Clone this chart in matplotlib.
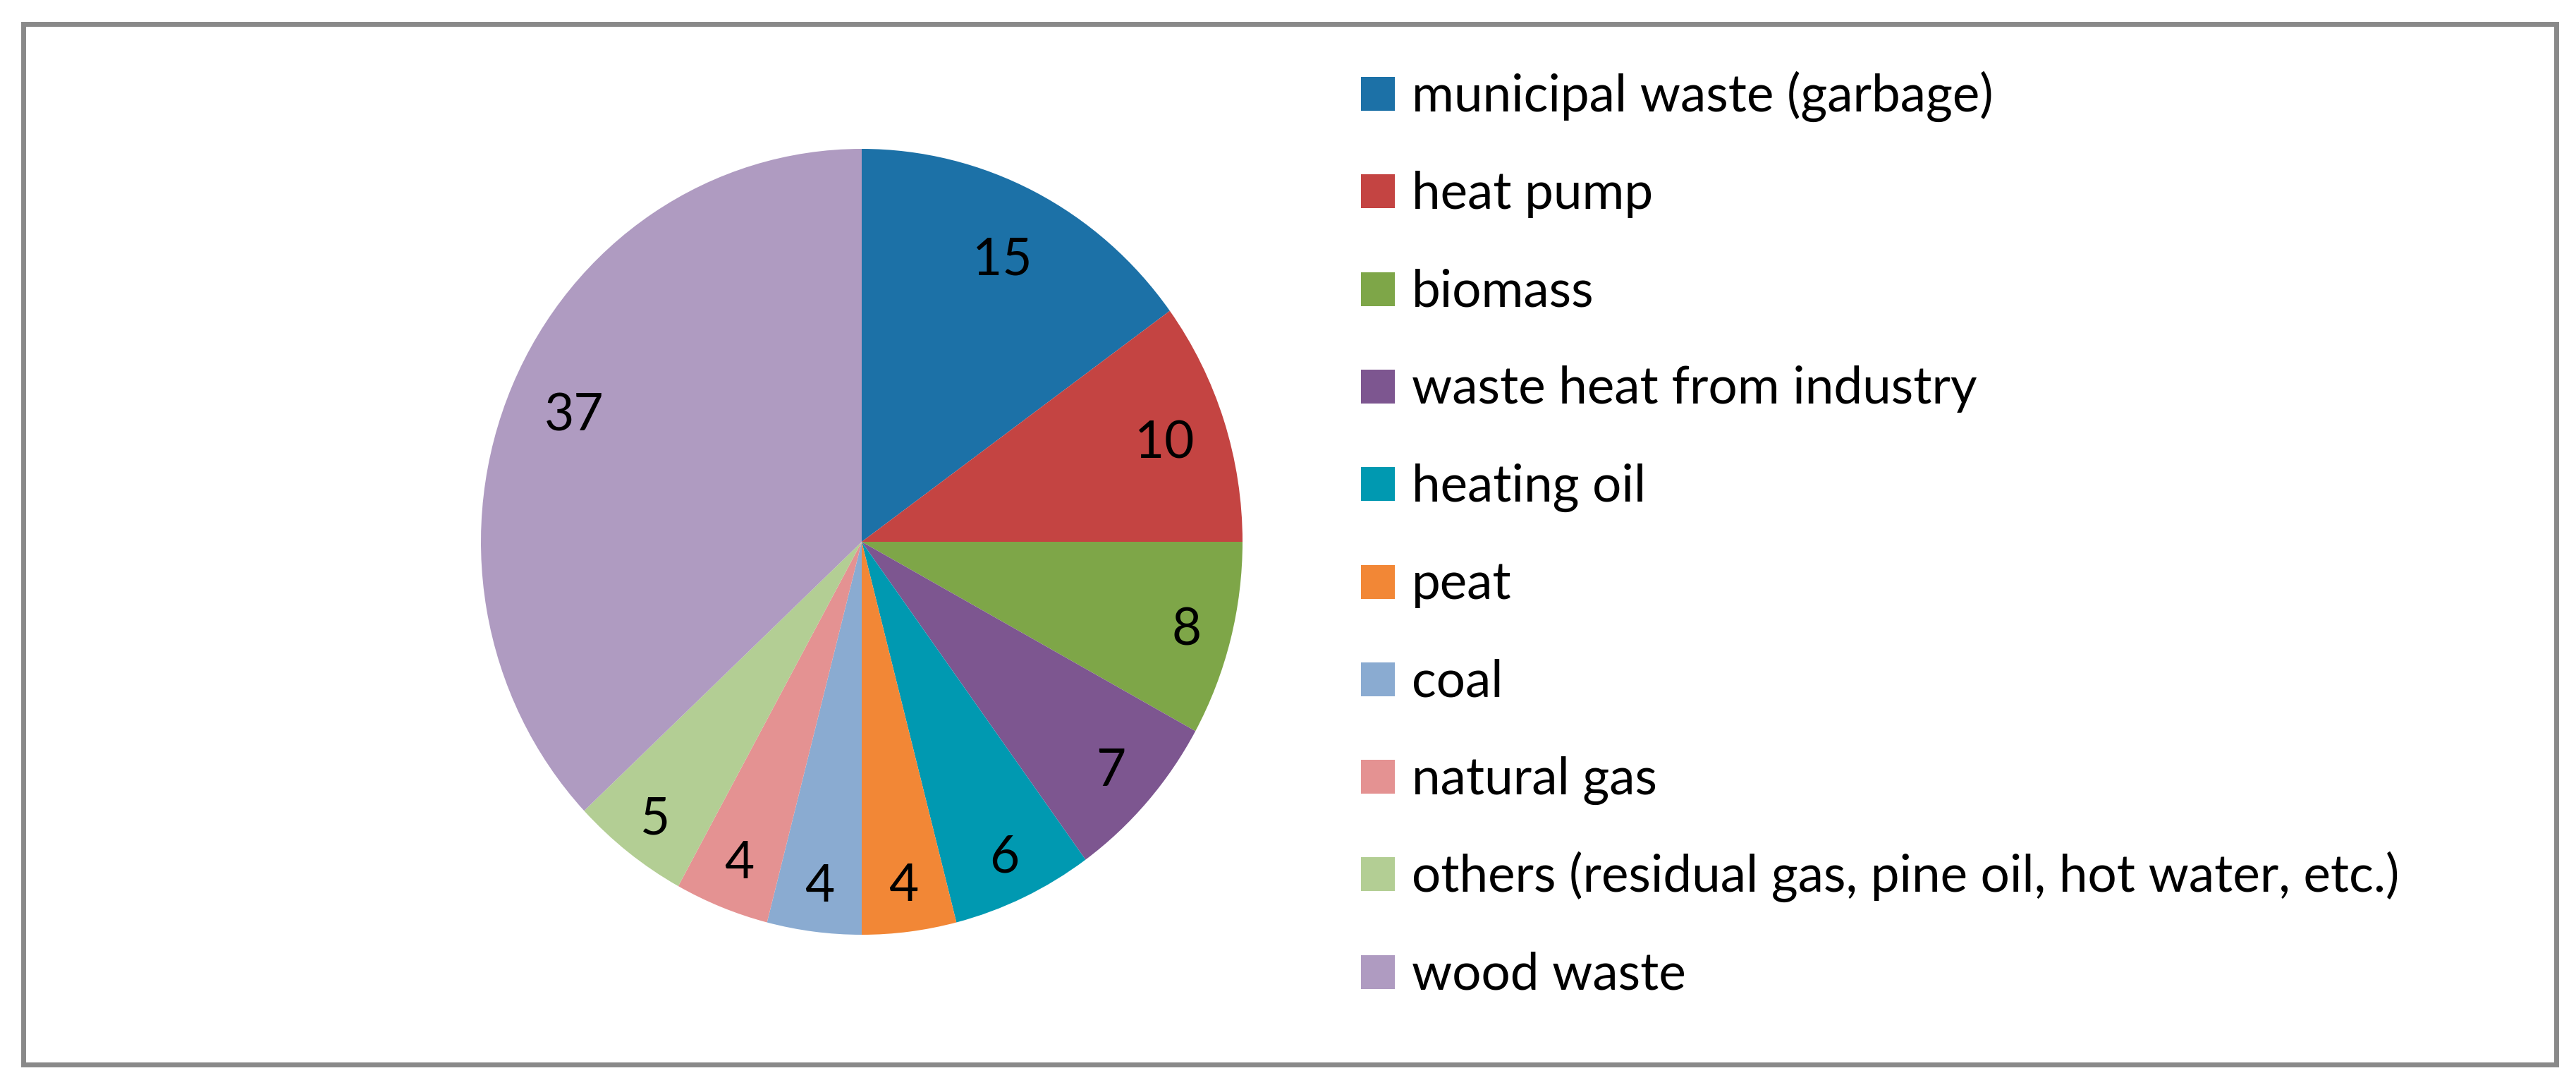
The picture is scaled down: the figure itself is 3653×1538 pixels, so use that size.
import matplotlib
matplotlib.use("Agg")
import matplotlib.pyplot as plt
from matplotlib.patches import Rectangle
import numpy as np

# Datos: fuentes de energía (%)
labels = ["municipal waste (garbage)", "heat pump", "biomass",
          "waste heat from industry", "heating oil", "peat", "coal",
          "natural gas", "others (residual gas, pine oil, hot water, etc.)",
          "wood waste"]
values = [15, 10, 8, 7, 6, 4, 4, 4, 5, 37]
colors = ["#1C71A7", "#C44442", "#7EA648", "#7D5690", "#0099B1",
          "#F28736", "#8AABD1", "#E49292", "#B3CE94", "#AF9BC1"]
# distancia radial de cada etiqueta (estilo "best fit" de Excel)
label_r = [0.814, 0.836, 0.88, 0.871, 0.879, 0.876, 0.877, 0.873, 0.884, 0.823]

W, H = 3653, 1538
plt.rcParams['font.family'] = ['Lato', 'DejaVu Sans']
fs = 52.5

fig = plt.figure(figsize=(W / 100, H / 100), dpi=100)

# marco gris
fig.patches.append(Rectangle((32.5 / W, 1 - 1508.5 / H), 3592 / W, 1475 / H,
                             transform=fig.transFigure, fill=False,
                             edgecolor="#898989", linewidth=5))

# pastel (ligeramente elíptico, como en el original)
cx, cy, rx, ry = 1222, 768, 540, 557
ax = fig.add_axes([(cx - rx) / W, 1 - (cy + ry) / H, 2 * rx / W, 2 * ry / H])
wedges, _ = ax.pie(values, colors=colors, startangle=90, counterclock=False,
                   wedgeprops=dict(linewidth=0))
ax.set_aspect('auto')
ax.set_xlim(-1, 1)
ax.set_ylim(-1, 1)
ax.axis('off')

for w, v, d in zip(wedges, values, label_r):
    ang = np.deg2rad((w.theta1 + w.theta2) / 2)
    ax.annotate(str(v), (d * np.cos(ang), d * np.sin(ang)),
                xytext=(0, -18), textcoords='offset points',
                ha='center', va='baseline', fontsize=fs)

# leyenda
key = 48
for i, (lab, col) in enumerate(zip(labels, colors)):
    yc = 133 + 138.3 * i
    fig.patches.append(Rectangle((1930 / W, 1 - (yc + key / 2) / H), key / W, key / H,
                                 transform=fig.transFigure, facecolor=col,
                                 edgecolor='none'))
    fig.text(2002 / W, 1 - (yc + 24.5) / H, lab, fontsize=fs,
             ha='left', va='baseline')

fig.savefig("out.png", dpi=100, facecolor='white')
